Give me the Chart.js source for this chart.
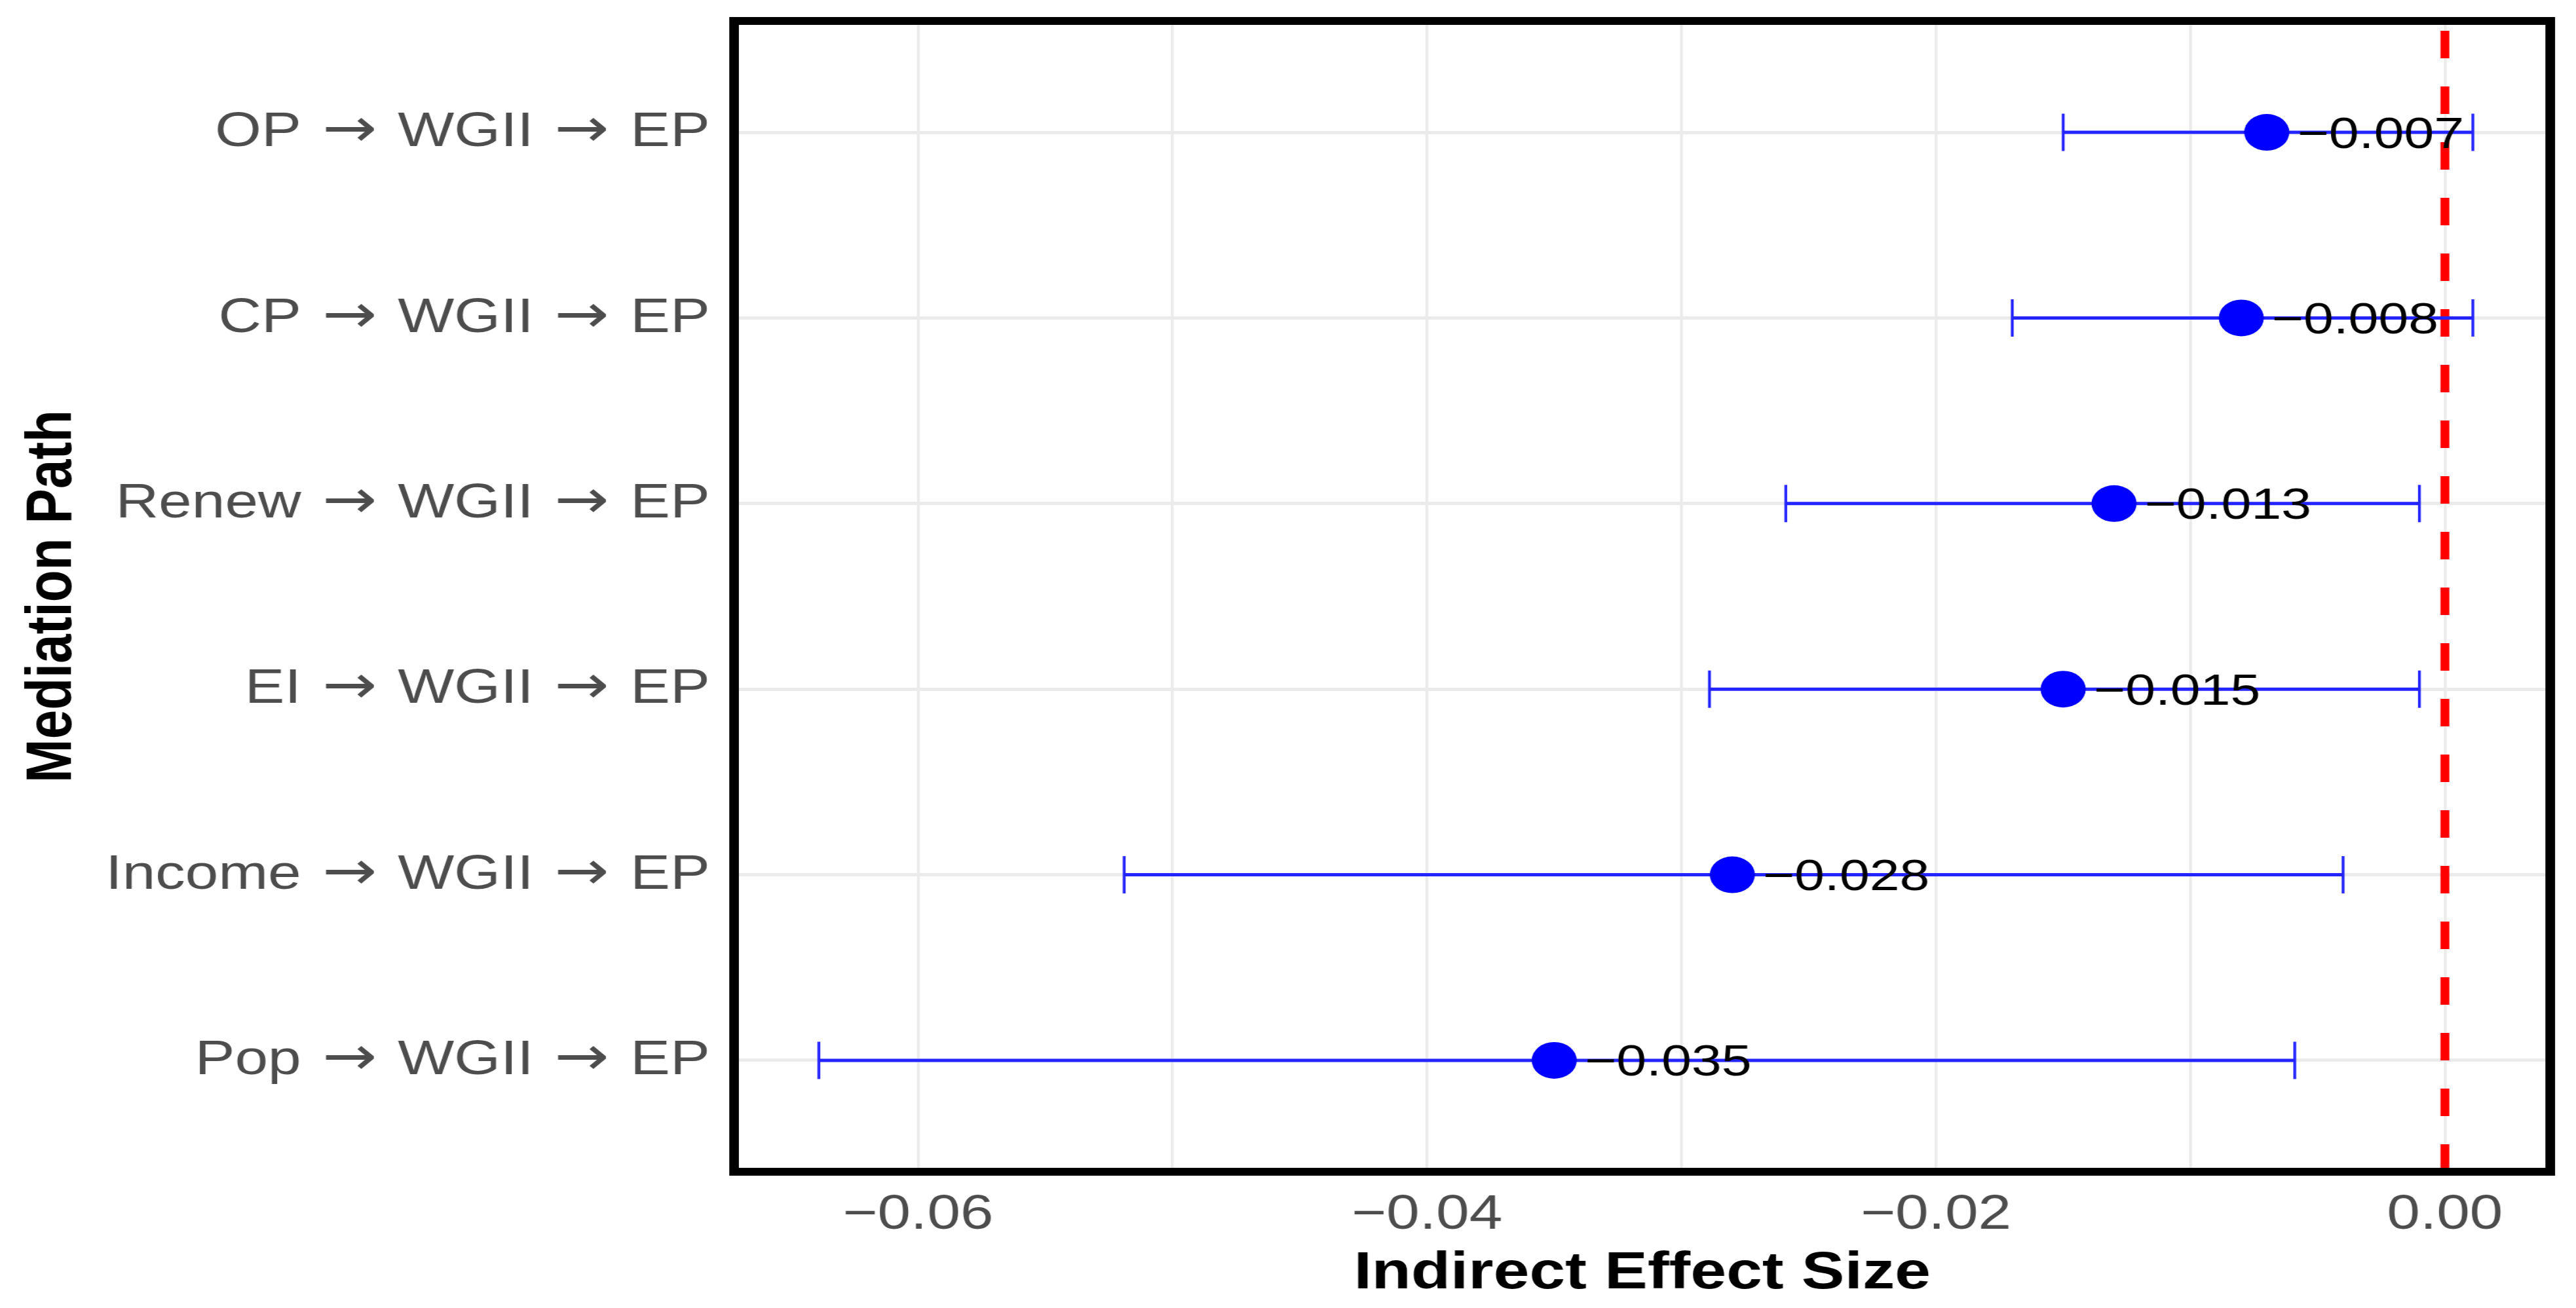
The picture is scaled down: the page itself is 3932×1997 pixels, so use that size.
<!DOCTYPE html>
<html>
<head>
<meta charset="utf-8">
<title>Indirect effects</title>
<script src="https://cdn.jsdelivr.net/npm/chart.js@4.4.1/dist/chart.umd.min.js"></script>
<style>
  /* arrows (and the spaces round them) from DejaVu, the letters stay in Liberation Sans */
  @font-face {
    font-family: 'PathArrow';
    src: local('DejaVu Sans'), local('DejaVuSans');
    unicode-range: U+0020, U+2190-21FF;
    size-adjust: 110%;
  }
  html, body { margin: 0; padding: 0; background: #ffffff; overflow: hidden; }
</style>
</head>
<body>
<!-- the source image is stretched sideways, so the canvas is drawn narrower and widened by css -->
<canvas id="chart" width="3197" height="1997" style="display:block;width:3932px;height:1997px"></canvas>
<script>
const paths = [
    'OP \u2192 WGII \u2192 EP',
    'CP \u2192 WGII \u2192 EP',
    'Renew \u2192 WGII \u2192 EP',
    'EI \u2192 WGII \u2192 EP',
    'Income \u2192 WGII \u2192 EP',
    'Pop \u2192 WGII \u2192 EP'
];
const estimates = [-0.007, -0.008, -0.013, -0.015, -0.028, -0.035];
const ciLower = [-0.0150, -0.0170, -0.0259, -0.0289, -0.0519, -0.0639];
const ciUpper = [0.0011, 0.0011, -0.0010, -0.0010, -0.0040, -0.0059];
const xTickValues = [-0.06, -0.04, -0.02, 0];
const xTickLabels = ['\u22120.06', '\u22120.04', '\u22120.02', '0.00'];

const FONT = '"Liberation Sans", Arial, sans-serif';
const BLUE = '#0000ff';
const BAR_BLUE = '#2424ff';

Chart.defaults.font.family = FONT;

const fmt = v => (v < 0 ? '\u2212' : '') + Math.abs(v).toFixed(3);

const whiteBg = {
    id: 'whiteBg',
    beforeDraw(chart) {
        const ctx = chart.ctx;
        ctx.save();
        ctx.fillStyle = '#ffffff';
        ctx.fillRect(0, 0, chart.width, chart.height);
        ctx.restore();
    }
};

const zeroLine = {
    id: 'zeroLine',
    beforeDatasetsDraw(chart) {
        const ctx = chart.ctx;
        const area = chart.chartArea;
        const x = chart.scales.x.getPixelForValue(0);
        ctx.save();
        ctx.strokeStyle = '#ff0000';
        ctx.lineWidth = 11;
        ctx.setLineDash([42, 43]);
        ctx.beginPath();
        ctx.moveTo(x, area.bottom);
        ctx.lineTo(x, area.top);
        ctx.stroke();
        ctx.restore();
    }
};

const valueLabels = {
    id: 'valueLabels',
    afterDatasetsDraw(chart) {
        const ctx = chart.ctx;
        const xs = chart.scales.x;
        const ys = chart.scales.y;
        ctx.save();
        ctx.font = '67px ' + FONT;
        ctx.fillStyle = '#000000';
        ctx.textAlign = 'left';
        ctx.textBaseline = 'middle';
        estimates.forEach((v, i) => {
            ctx.fillText(fmt(v), xs.getPixelForValue(v) + 38, ys.getPixelForValue(i) + 5);
        });
        ctx.restore();
    }
};

const panelBorder = {
    id: 'panelBorder',
    afterDraw(chart) {
        const ctx = chart.ctx;
        const a = chart.chartArea;
        ctx.save();
        ctx.strokeStyle = '#000000';
        ctx.lineWidth = 12;
        ctx.strokeRect(a.left, a.top, a.right - a.left, a.bottom - a.top);
        ctx.restore();
    }
};

const ciSets = paths.map((p, i) => ({
    label: p,
    data: [{ x: ciLower[i], y: i }, { x: ciUpper[i], y: i }],
    showLine: true,
    borderColor: BAR_BLUE,
    borderWidth: 5,
    pointStyle: 'line',
    pointRotation: 90,
    pointRadius: 28.5,
    pointBorderWidth: 3.5,
    pointBorderColor: BAR_BLUE,
    pointBackgroundColor: BAR_BLUE
}));

const dotSet = {
    label: 'Estimate',
    data: estimates.map((v, i) => ({ x: v, y: i })),
    showLine: false,
    pointRadius: 28,
    pointBackgroundColor: BLUE,
    pointBorderWidth: 0
};

function draw() {
    new Chart(document.getElementById('chart'), {
        type: 'scatter',
        data: { datasets: [dotSet].concat(ciSets) },
        options: {
            responsive: false,
            devicePixelRatio: 1,
            animation: false,
            events: [],
            layout: { padding: { top: 30, right: 25, bottom: 0, left: 0 } },
            plugins: {
                legend: { display: false },
                tooltip: { enabled: false }
            },
            scales: {
                x: {
                    type: 'linear',
                    min: -0.06723,
                    max: 0.00414,
                    afterFit(scale) {
                        scale.height = 208;
                        scale.paddingLeft = 0;
                        scale.paddingRight = 0;
                    },
                    border: { display: false },
                    grid: { color: '#ebebeb', lineWidth: 3.5, drawTicks: false },
                    ticks: {
                        stepSize: 0.01,
                        includeBounds: false,
                        autoSkip: false,
                        maxRotation: 0,
                        padding: 22,
                        color: '#4d4d4d',
                        font: { size: 74 },
                        callback(value) {
                            const k = xTickValues.findIndex(t => Math.abs(t - value) < 1e-6);
                            return k >= 0 ? xTickLabels[k] : '';
                        }
                    },
                    title: {
                        display: true,
                        text: 'Indirect Effect Size',
                        color: '#000000',
                        font: { size: 80, weight: 'bold' },
                        padding: { top: 0, bottom: 4 }
                    }
                },
                y: {
                    type: 'linear',
                    reverse: true,
                    min: -0.6,
                    max: 5.6,
                    afterFit(scale) {
                        scale.width = 911;
                        scale.paddingTop = 0;
                        scale.paddingBottom = 0;
                    },
                    border: { display: false },
                    grid: { color: '#ebebeb', lineWidth: 5, drawTicks: false },
                    ticks: {
                        stepSize: 1,
                        includeBounds: false,
                        autoSkip: false,
                        padding: 30,
                        color: '#4d4d4d',
                        font: { size: 74, family: 'PathArrow, ' + FONT },
                        callback(value) {
                            return paths[value] !== undefined ? paths[value] : '';
                        }
                    },
                    title: {
                        display: true,
                        text: 'Mediation Path',
                        color: '#000000',
                        font: { size: 80, weight: 'bold' },
                        padding: { top: 18, bottom: 0 }
                    }
                }
            }
        },
        plugins: [whiteBg, zeroLine, valueLabels, panelBorder]
    });
}

document.fonts.load('74px PathArrow', ' \u2192').then(draw, draw);
</script>
</body>
</html>
